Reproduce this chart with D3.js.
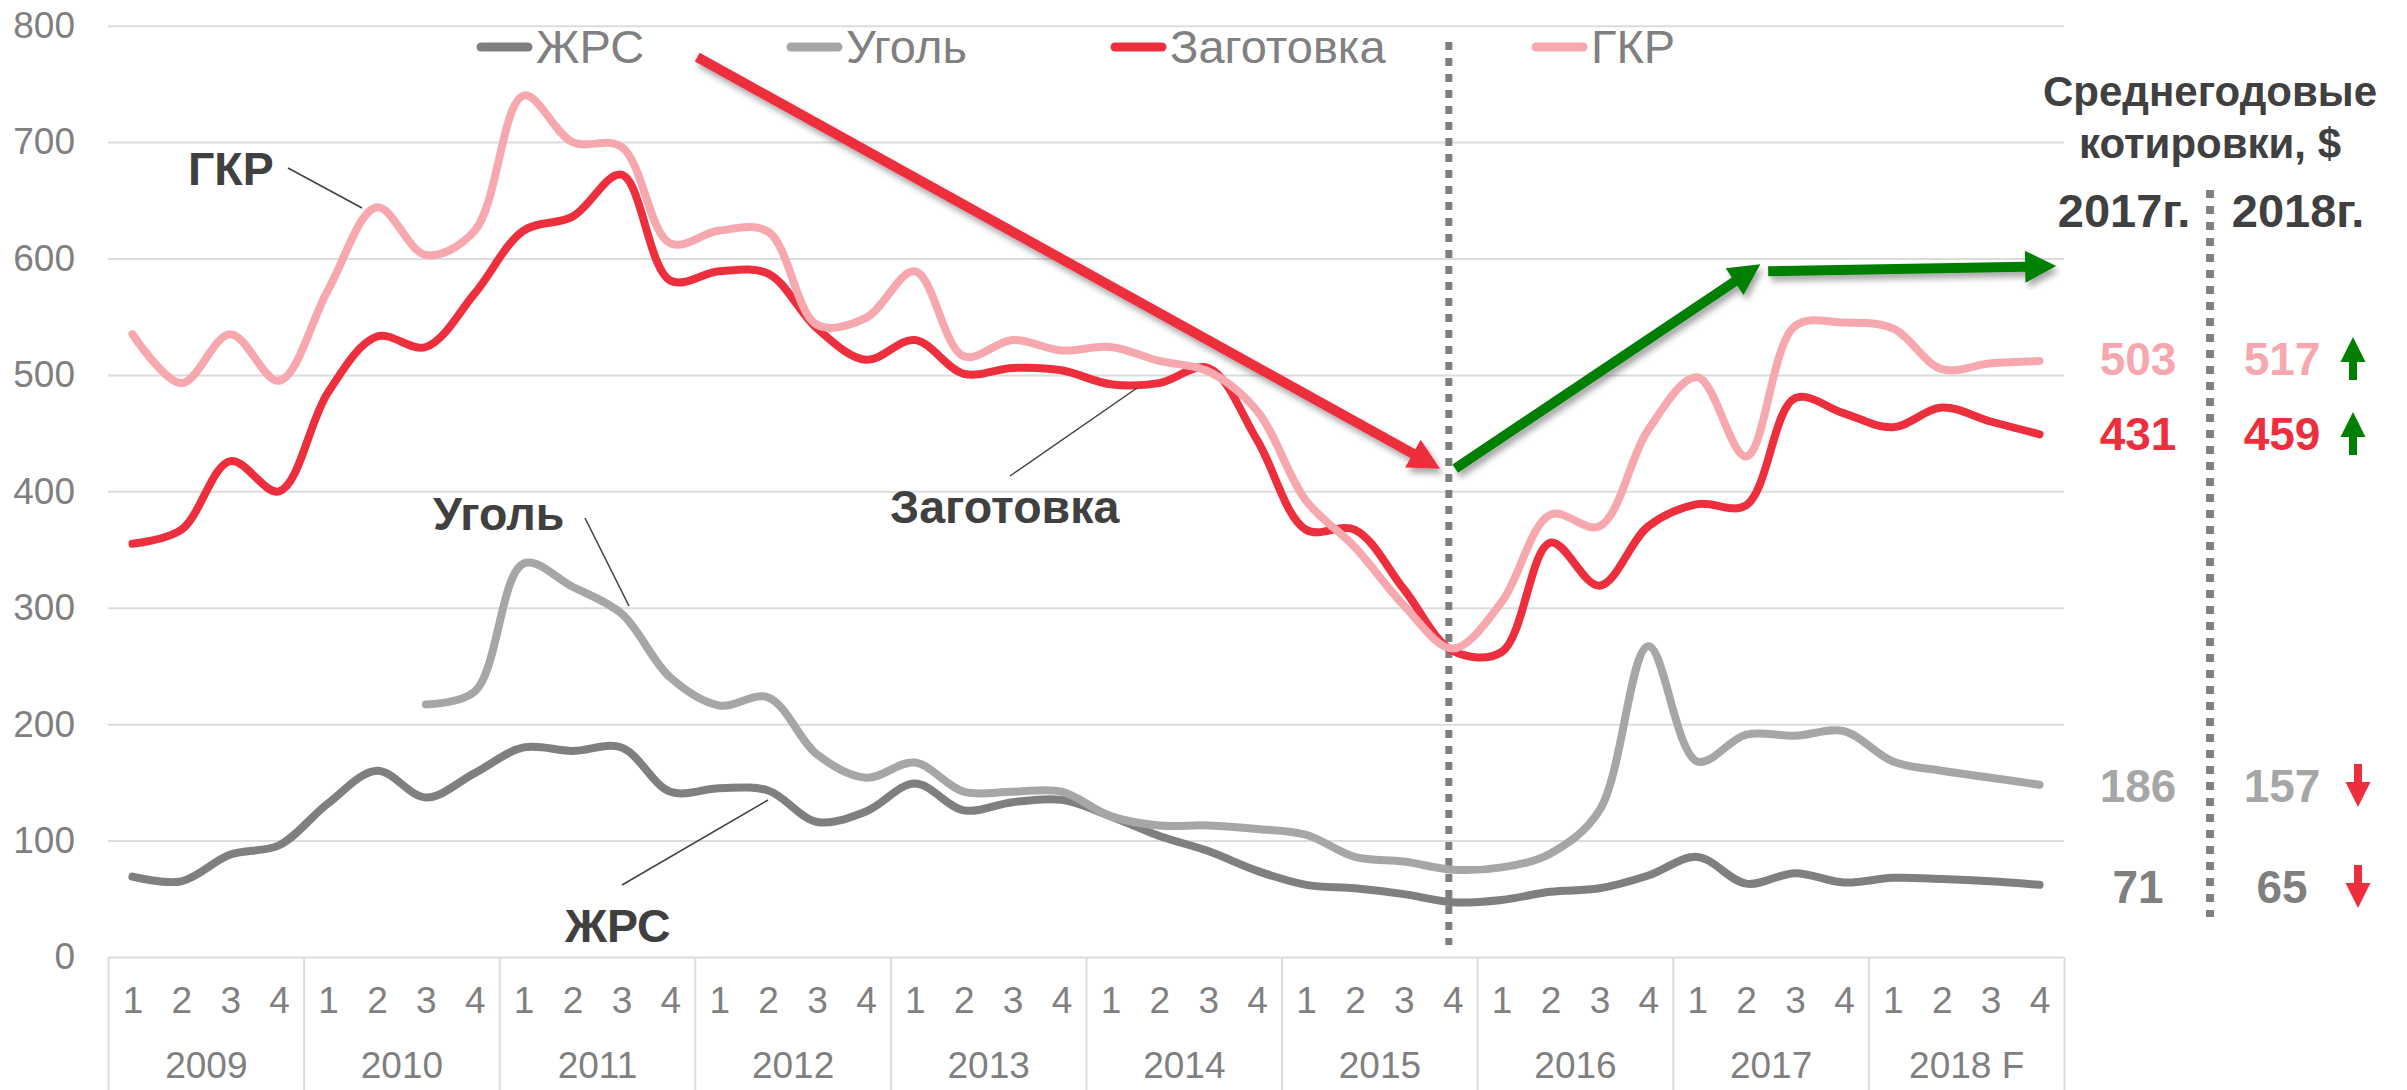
<!DOCTYPE html>
<meta charset="utf-8">
<style>
  body { margin: 0; background: #fff; }
  text { font-family: "Liberation Sans", Arial, sans-serif; }
</style>
<script src="https://d3js.org/d3.v7.min.js"></script>
<div id="chart"></div>
<script>
// quarterly quotes, 2009 Q1 .. 2018 Q4
const quarters = ["1", "2", "3", "4"];
const years = ["2009", "2010", "2011", "2012", "2013", "2014", "2015", "2016", "2017", "2018 F"];
const seriesNames = ["ЖРС", "Уголь", "Заготовка", "ГКР"];

const zhrs = [69, 65, 88, 96, 132, 160, 137, 158, 180, 177, 180, 142, 145, 143, 116, 125,
  149, 126, 133, 135, 121, 104, 91, 74, 62, 59, 54, 47, 49, 56, 59, 70,
  86, 63, 72, 64, 68, 67, 65, 62];
const coal = [null, null, null, null, null, null, 217, 228, 338, 318, 295, 240, 216, 223, 174, 154,
  167, 142, 142, 142, 121, 113, 113, 110, 105, 86, 82, 75, 77, 89, 126, 267,
  168, 191, 190, 194, 168, 160, 154, 148];
const billet = [355, 367, 426, 400, 485, 533, 524, 570, 624, 636, 672, 581, 589, 587, 540, 513,
  530, 501, 506, 504, 492, 493, 506, 444, 367, 367, 316, 263, 262, 356, 319, 370,
  389, 388, 480, 467, 455, 472, 460, 449];
const hrc = [535, 493, 535, 495, 573, 644, 603, 624, 740, 700, 696, 613, 624, 623, 543, 549,
  589, 516, 530, 521, 524, 512, 503, 469, 392, 352, 302, 265, 305, 380, 370, 453,
  498, 430, 542, 545, 540, 505, 510, 512];

// yearly averages shown on the right
const avgRows = ["ГКР", "Заготовка", "Уголь", "ЖРС"];
const avg2017 = [503, 431, 186, 71];
const avg2018 = [517, 459, 157, 65];

const yTicks = [0, 100, 200, 300, 400, 500, 600, 700, 800];

const colors = {"ЖРС": "#7f7f7f", "Уголь": "#a6a6a6", "Заготовка": "#ed2f3d", "ГКР": "#f6a8ae"};
const seriesData = {"ЖРС": zhrs, "Уголь": coal, "Заготовка": billet, "ГКР": hrc};

const W = 2407, H = 1090;
const svg = d3.select("#chart").append("svg").attr("width", W).attr("height", H);

const defs = svg.append("defs");
defs.append("filter").attr("id", "shadow").attr("x", "-20%").attr("y", "-20%").attr("width", "140%").attr("height", "140%")
  .append("feDropShadow").attr("dx", 3).attr("dy", 5).attr("stdDeviation", 3)
  .attr("flood-color", "#000").attr("flood-opacity", 0.35);

const x = d3.scaleLinear().domain([-0.5, 39.5]).range([108, 2064]);
const y = d3.scaleLinear().domain([0, 800]).range([957, 25.7]);

// grid
const grid = svg.append("g").attr("transform", "translate(108,0)")
  .call(d3.axisLeft(y).tickValues(yTicks).tickSize(-1956).tickFormat(""));
grid.select(".domain").remove();
grid.selectAll("line").attr("stroke", "#dcdcdc").attr("stroke-width", 2);

// y labels
const yAxis = svg.append("g").attr("transform", "translate(108,0)")
  .call(d3.axisLeft(y).tickValues(yTicks).tickSize(0).tickPadding(33));
yAxis.select(".domain").remove();
yAxis.selectAll("text").attr("fill", "#808080").style("font-size", "37px");

// category axis: quarters + years + separators
const sep = svg.append("g").attr("transform", `translate(0,${y(0)})`)
  .call(d3.axisBottom(x).tickValues(d3.range(11).map(k => 4 * k - 0.5)).tickSize(133).tickFormat(""));
sep.select(".domain").remove();
sep.selectAll("line").attr("stroke", "#dcdcdc").attr("stroke-width", 2);

const qAxis = svg.append("g").attr("transform", `translate(0,${y(0)})`)
  .call(d3.axisBottom(x).tickValues(d3.range(40)).tickFormat(i => quarters[i % 4]).tickSize(0).tickPadding(30));
qAxis.select(".domain").remove();
qAxis.selectAll("text").attr("fill", "#808080").style("font-size", "37px");

const yrAxis = svg.append("g").attr("transform", `translate(0,${y(0)})`)
  .call(d3.axisBottom(x).tickValues(d3.range(10).map(k => 4 * k + 1.5)).tickFormat((d, i) => years[i]).tickSize(0).tickPadding(95));
yrAxis.select(".domain").remove();
yrAxis.selectAll("text").attr("fill", "#808080").style("font-size", "37px");

// dotted line at 2015 Q4
svg.append("line").attr("x1", x(26.92)).attr("x2", x(26.92)).attr("y1", 42).attr("y2", 945)
  .attr("stroke", "#7f7f7f").attr("stroke-width", 7).attr("stroke-dasharray", "8 8");

// series
const line = d3.line()
  .defined(d => d != null)
  .x((d, i) => x(i))
  .y(d => y(d))
  .curve(d3.curveCatmullRom.alpha(0.5));

seriesNames.forEach(name => {
  svg.append("path")
    .datum(seriesData[name])
    .attr("d", line)
    .attr("fill", "none")
    .attr("stroke", colors[name])
    .attr("stroke-width", 8)
    .attr("stroke-linecap", "round")
    .attr("stroke-linejoin", "round");
});

// legend
const legendX = [477, 787, 1111, 1532];
seriesNames.forEach((name, i) => {
  const g = svg.append("g").attr("transform", `translate(${legendX[i]},47)`);
  g.append("line").attr("x1", 4).attr("x2", 51).attr("stroke", colors[name])
    .attr("stroke-width", 9).attr("stroke-linecap", "round");
  g.append("text").attr("x", 59).attr("y", 16).text(name)
    .attr("fill", "#808080").style("font-size", "47px");
});

// callouts
const callouts = [
  {text: "ГКР", tx: 188, ty: 185, l: [288, 168, 362, 208]},
  {text: "Уголь", tx: 433, ty: 530, l: [585, 518, 629, 606]},
  {text: "ЖРС", tx: 565, ty: 942, l: [622, 885, 768, 800]},
  {text: "Заготовка", tx: 890, ty: 523, l: [1010, 476, 1137, 388]}
];
callouts.forEach(c => {
  svg.append("line").attr("x1", c.l[0]).attr("y1", c.l[1]).attr("x2", c.l[2]).attr("y2", c.l[3])
    .attr("stroke", "#404040").attr("stroke-width", 1.5);
  svg.append("text").attr("x", c.tx).attr("y", c.ty).text(c.text)
    .attr("fill", "#404040").style("font-size", "46.5px").style("font-weight", "bold");
});

// trend arrows (index, value)
function arrowPath(x1, y1, x2, y2, w, h, L) {
  const dx = x2 - x1, dy = y2 - y1, len = Math.hypot(dx, dy);
  const ux = dx / len, uy = dy / len, nx = -uy, ny = ux;
  const bx = x2 - ux * L, by = y2 - uy * L;
  const p = [
    [x1 + nx * w / 2, y1 + ny * w / 2], [bx + nx * w / 2, by + ny * w / 2], [bx + nx * h, by + ny * h],
    [x2, y2],
    [bx - nx * h, by - ny * h], [bx - nx * w / 2, by - ny * w / 2], [x1 - nx * w / 2, y1 - ny * w / 2]
  ];
  return "M" + p.map(q => q.join(",")).join("L") + "Z";
}
const trends = [
  {from: [11.55, 773], to: [26.74, 419.5], color: "#ed2f3d"},
  {from: [27.05, 419.5], to: [33.29, 595], color: "#007f00"},
  {from: [33.45, 589], to: [39.34, 593.5], color: "#007f00"}
];
trends.forEach(t => {
  svg.append("path")
    .attr("d", arrowPath(x(t.from[0]), y(t.from[1]), x(t.to[0]), y(t.to[1]), 10, 16, 31))
    .attr("fill", t.color).attr("filter", "url(#shadow)");
});

// right panel
const rp = svg.append("g");
rp.append("text").attr("x", 2210).attr("y", 106).attr("text-anchor", "middle").text("Среднегодовые")
  .attr("fill", "#404040").style("font-size", "42px").style("font-weight", "bold");
rp.append("text").attr("x", 2210).attr("y", 158).attr("text-anchor", "middle").text("котировки, $")
  .attr("fill", "#404040").style("font-size", "42px").style("font-weight", "bold");
rp.append("text").attr("x", 2124).attr("y", 227).attr("text-anchor", "middle").text("2017г.")
  .attr("fill", "#404040").style("font-size", "47px").style("font-weight", "bold");
rp.append("text").attr("x", 2298).attr("y", 227).attr("text-anchor", "middle").text("2018г.")
  .attr("fill", "#404040").style("font-size", "47px").style("font-weight", "bold");
rp.append("line").attr("x1", 2210).attr("x2", 2210).attr("y1", 190).attr("y2", 917)
  .attr("stroke", "#7f7f7f").attr("stroke-width", 8).attr("stroke-dasharray", "8 8");

const rowY = [375, 450, 802, 903];
const avgColors = {"ГКР": "#f6a8ae", "Заготовка": "#ed2f3d", "Уголь": "#a6a6a6", "ЖРС": "#7f7f7f"};
avgRows.forEach((name, i) => {
  rp.append("text").attr("x", 2138).attr("y", rowY[i]).attr("text-anchor", "middle").text(avg2017[i])
    .attr("fill", avgColors[name]).style("font-size", "46px").style("font-weight", "bold");
  rp.append("text").attr("x", 2282).attr("y", rowY[i]).attr("text-anchor", "middle").text(avg2018[i])
    .attr("fill", avgColors[name]).style("font-size", "46px").style("font-weight", "bold");
  const up = avg2018[i] > avg2017[i];
  const cx = up ? 2353 : 2358;
  const top = rowY[i] - 38, bot = rowY[i] + 5;
  const path = up
    ? arrowPath(cx, bot, cx, top, 8, 12.5, 25)
    : arrowPath(cx, top, cx, bot, 8, 12.5, 25);
  rp.append("path").attr("d", path).attr("fill", up ? "#007f00" : "#ed2f3d");
});
</script>
